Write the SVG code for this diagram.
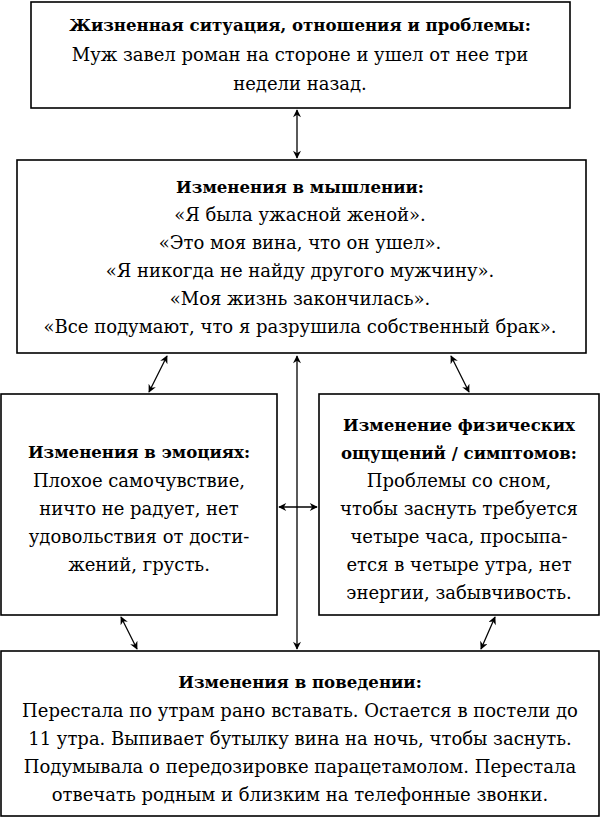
<svg xmlns="http://www.w3.org/2000/svg" width="601" height="819" viewBox="0 0 601 819">
<defs>
<style>
.box{fill:#fff;stroke:#000;stroke-width:1.6}
.t{font-family:'DejaVu Serif',serif;font-size:18px;fill:#000;text-anchor:middle}
.h{font-weight:bold;font-size:16.6px}
.c{stroke:#000;stroke-width:1.3;fill:none;marker-start:url(#a);marker-end:url(#a)}
</style>
<marker id="a" viewBox="0 0 10 10" refX="9" refY="5" markerWidth="10" markerHeight="8" markerUnits="userSpaceOnUse" orient="auto-start-reverse">
<path d="M0,0 L10,5 L0,10 L3,5 Z" fill="#000"/>
</marker>
</defs>
<rect width="601" height="819" fill="#fff"/>
<g id="connectors">
<line class="c" x1="297" y1="110" x2="297" y2="158"/>
<line class="c" x1="167" y1="356" x2="149" y2="392"/>
<line class="c" x1="451" y1="356" x2="469" y2="392"/>
<line class="c" x1="297" y1="356" x2="297" y2="649"/>
<line class="c" x1="279" y1="507" x2="317" y2="507"/>
<line class="c" x1="121" y1="617" x2="137" y2="649"/>
<line class="c" x1="495" y1="617" x2="481" y2="649"/>
</g>
<g id="life">
<rect class="box" x="31" y="2" width="539" height="106"/>
<text class="t h" x="300" y="31">Жизненная ситуация, отношения и проблемы:</text>
<text class="t" x="300" y="61">Муж завел роман на стороне и ушел от нее три</text>
<text class="t" x="300" y="90">недели назад.</text>
</g>
<g id="thinking">
<rect class="box" x="17" y="160" width="569" height="193"/>
<text class="t h" x="300" y="193">Изменения в мышлении:</text>
<text class="t" x="300" y="221">«Я была ужасной женой».</text>
<text class="t" x="300" y="249">«Это моя вина, что он ушел».</text>
<text class="t" x="300" y="277">«Я никогда не найду другого мужчину».</text>
<text class="t" x="300" y="305">«Моя жизнь закончилась».</text>
<text class="t" x="300" y="333">«Все подумают, что я разрушила собственный брак».</text>
</g>
<g id="emotions">
<rect class="box" x="1" y="394" width="276" height="221"/>
<text class="t h" x="139" y="458">Изменения в эмоциях:</text>
<text class="t" x="139" y="487">Плохое самочувствие,</text>
<text class="t" x="139" y="515">ничто не радует, нет</text>
<text class="t" x="139" y="543">удовольствия от дости-</text>
<text class="t" x="139" y="571">жений, грусть.</text>
</g>
<g id="physical">
<rect class="box" x="319" y="394" width="280" height="221"/>
<text class="t h" x="459" y="431">Изменение физических</text>
<text class="t h" x="459" y="459">ощущений / симптомов:</text>
<text class="t" x="459" y="487">Проблемы со сном,</text>
<text class="t" x="459" y="515">чтобы заснуть требуется</text>
<text class="t" x="459" y="543">четыре часа, просыпа-</text>
<text class="t" x="459" y="571">ется в четыре утра, нет</text>
<text class="t" x="459" y="599">энергии, забывчивость.</text>
</g>
<g id="behavior">
<rect class="box" x="1" y="651" width="598" height="165"/>
<text class="t h" x="300" y="688">Изменения в поведении:</text>
<text class="t" x="300" y="717">Перестала по утрам рано вставать. Остается в постели до</text>
<text class="t" x="300" y="745">11 утра. Выпивает бутылку вина на ночь, чтобы заснуть.</text>
<text class="t" x="300" y="773">Подумывала о передозировке парацетамолом. Перестала</text>
<text class="t" x="300" y="801">отвечать родным и близким на телефонные звонки.</text>
</g>
</svg>
